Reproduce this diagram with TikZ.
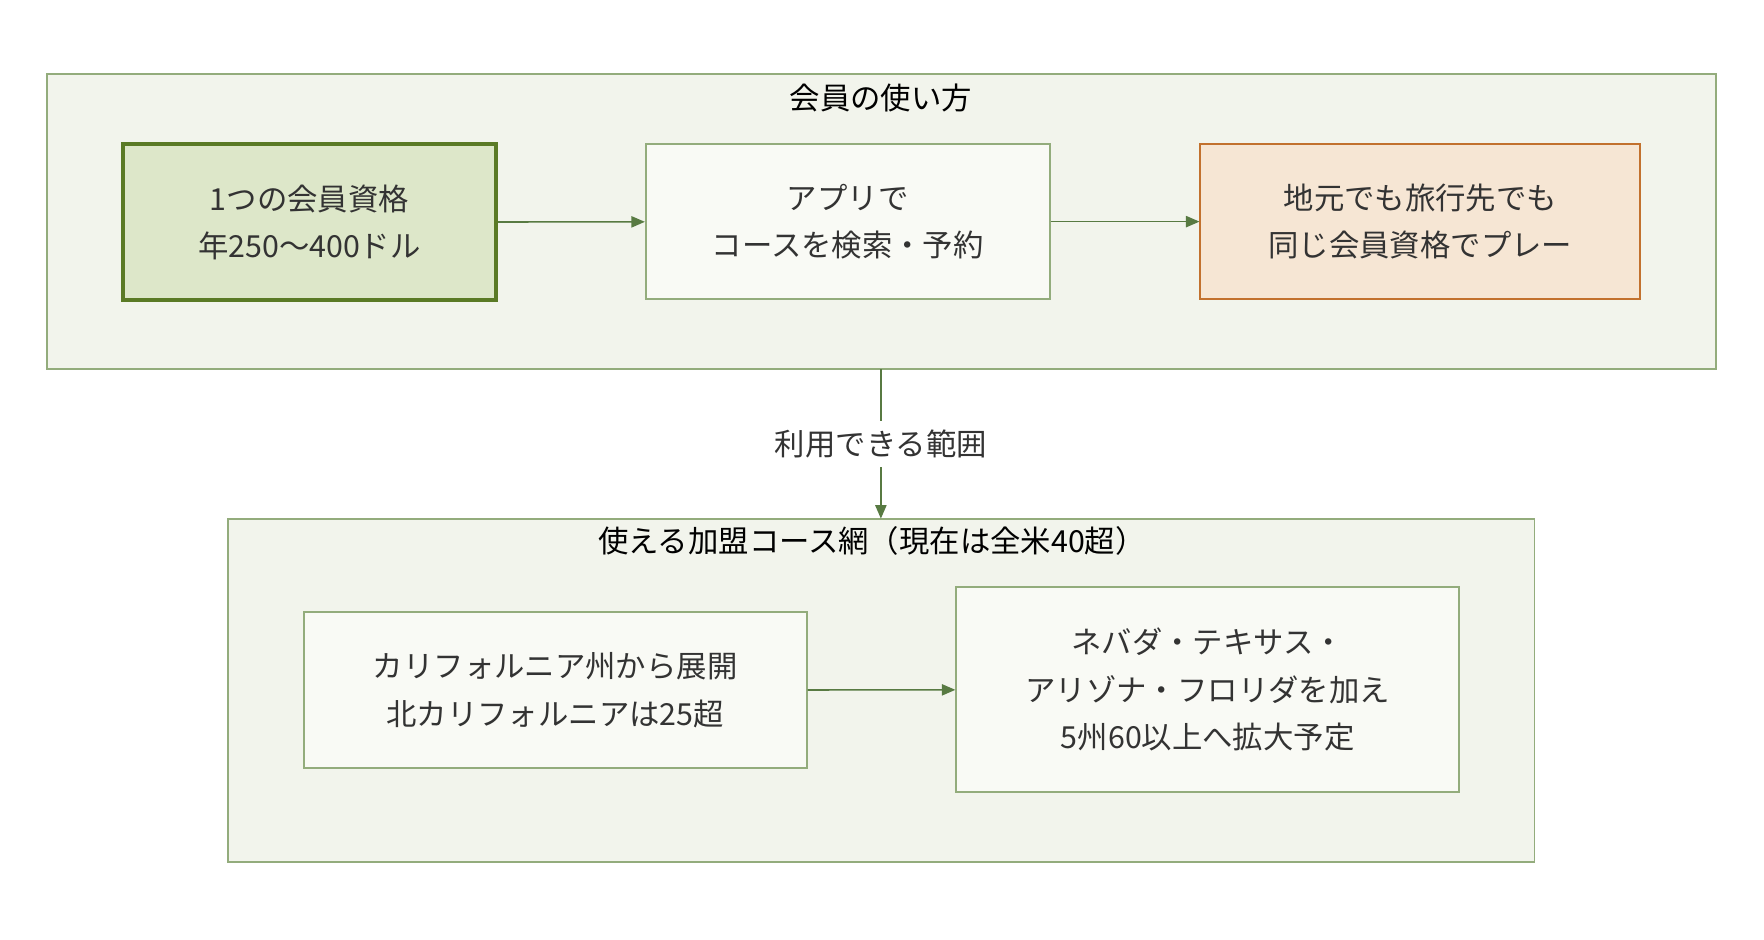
\documentclass[tikz,border=0pt]{standalone}
\usepackage{fontspec}
\setmainfont{Noto Sans CJK JP}
\usetikzlibrary{arrows.meta}
\definecolor{grpfill}{HTML}{F2F4EC}
\definecolor{grpline}{HTML}{93AC7C}
\definecolor{boxfill}{HTML}{F9FAF5}
\definecolor{afill}{HTML}{DDE7C9}
\definecolor{aline}{HTML}{5A7A25}
\definecolor{cfill}{HTML}{F6E6D4}
\definecolor{cline}{HTML}{C2712E}
\definecolor{arr}{HTML}{587A42}
\definecolor{txt}{HTML}{333333}
\begin{document}
\begin{tikzpicture}[x=0.5pt,y=-0.5pt,
  grp/.style={draw=grpline,fill=grpfill,line width=0.8pt},
  box/.style={draw=grpline,fill=boxfill,line width=0.8pt},
  lbl/.style={text=txt,font=\fontsize{13.5}{21}\selectfont,align=center},
  ttl/.style={text=black,font=\fontsize{13.5}{16}\selectfont},
  conn/.style={draw=arr,line width=0.7pt,-{Triangle[length=6pt,width=5pt]}}]
\useasboundingbox (0,0) rectangle (1568,835);
\draw[grp] (42,66) rectangle (1525,328);
\coordinate (g1b) at (783,328);
\node[ttl] (t1) at (783,87) {会員の使い方};
\draw[grp] (203,461) rectangle (1364,766);
\coordinate (g2t) at (783,461);
\node[ttl] (t2) at (775,481) {使える加盟コース網（現在は全米40超）};
\node[draw=aline,fill=afill,line width=1.8pt,minimum width=166pt,minimum height=69.5pt,lbl] (a) at (275,197.5) {1つの会員資格\\年250〜400ドル};
\node[box,minimum width=179.5pt,minimum height=69pt,lbl] (b) at (753.5,197) {アプリで\\コースを検索・予約};
\node[draw=cline,fill=cfill,line width=0.8pt,minimum width=195.5pt,minimum height=69pt,lbl] (c) at (1262.5,197) {地元でも旅行先でも\\同じ会員資格でプレー};
\node[box,minimum width=223.5pt,minimum height=69.5pt,lbl] (d) at (493.5,613.5) {カリフォルニア州から展開\\北カリフォルニアは25超};
\node[box,minimum width=223.5pt,minimum height=91pt,lbl] (e) at (1073.5,613) {ネバダ・テキサス・\\アリゾナ・フロリダを加え\\5州60以上へ拡大予定};
\draw[conn] (a) -- (b);
\draw[conn] (b) -- (c);
\draw[conn] (d) -- (e);
\draw[conn] (g1b) -- node[fill=white,lbl,inner sep=4pt] (m) {利用できる範囲} (g2t);
\end{tikzpicture}
\end{document}
